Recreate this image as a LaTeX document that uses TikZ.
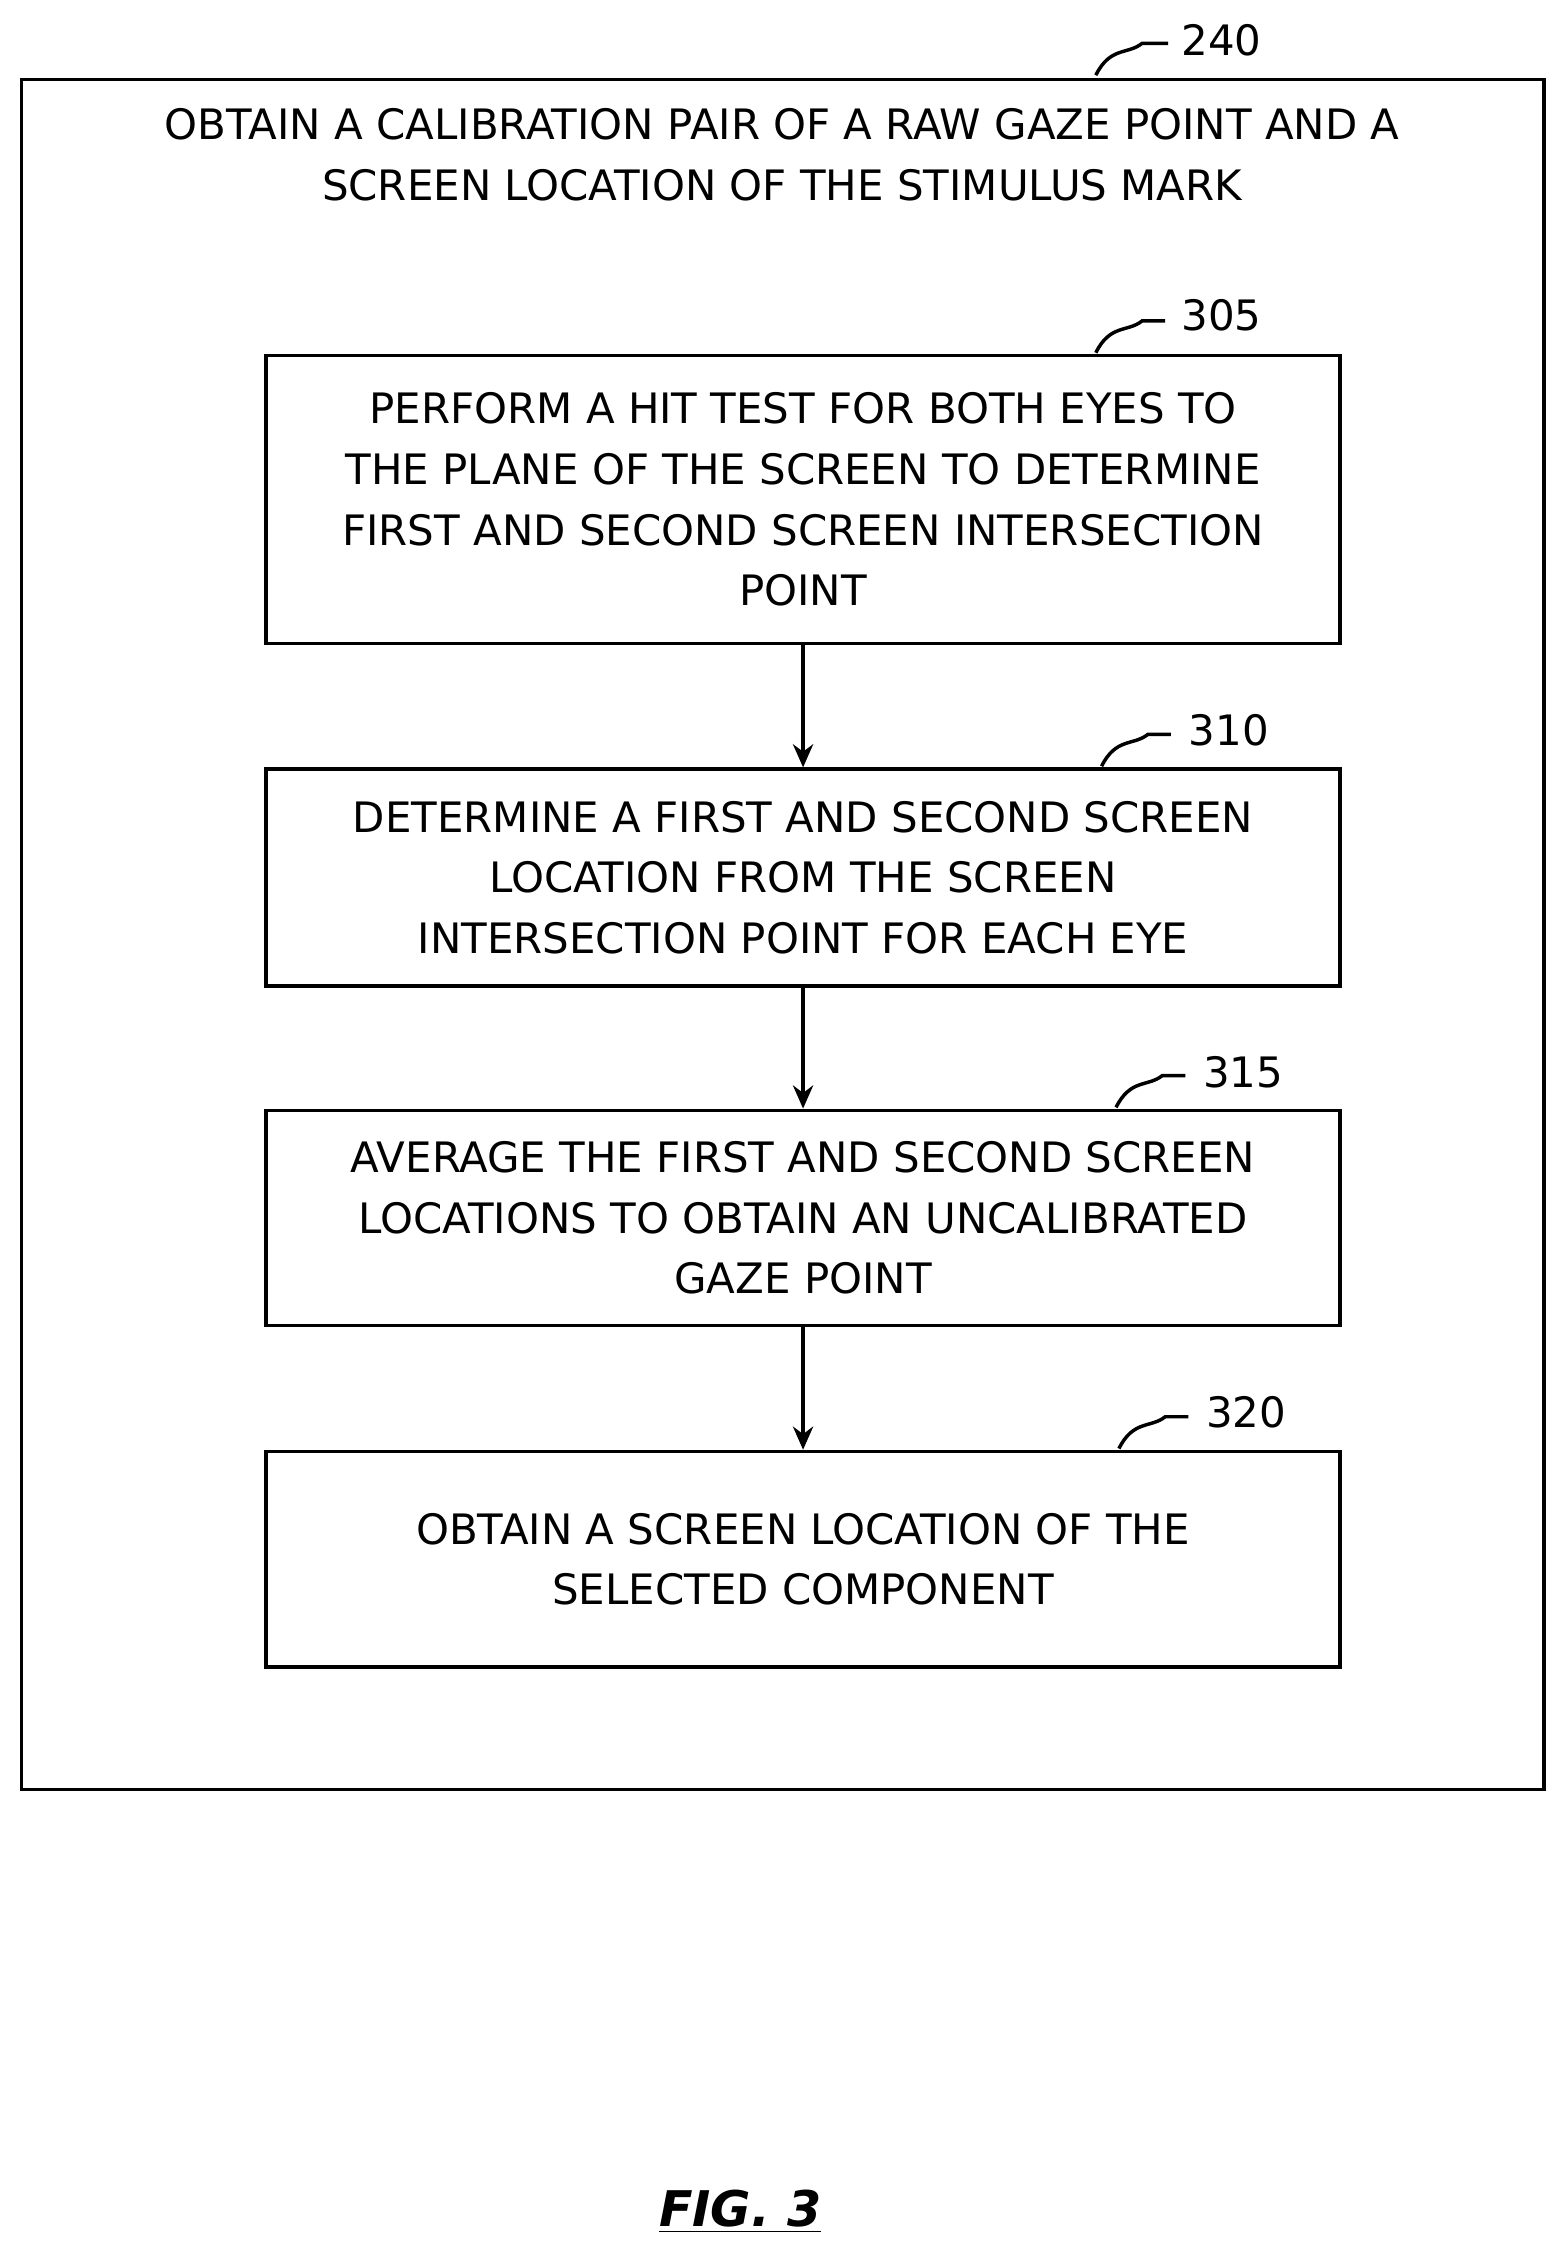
\documentclass[tikz,border=0pt]{standalone}
\usepackage{fontspec}
\usetikzlibrary{arrows.meta}
\setmainfont{DejaVu Sans}
\begin{document}
\begin{tikzpicture}[x=0.5pt,y=-0.5pt,
  bx/.style={draw,line width=1.2pt},
  txt/.style={align=center,font=\fontsize{14.5}{21}\selectfont},
  lab/.style={font=\fontsize{14.5}{17}\selectfont},
  ar/.style={draw,line width=1.2pt,-{Stealth[length=8pt,width=7pt]}},
  ld/.style={line width=1.2pt}]
\useasboundingbox (0,0) rectangle (1080,1564);
\draw[bx] (15,55) rectangle (1068,1238);
\node[txt] (t240) at (541,107) {OBTAIN A CALIBRATION PAIR OF A RAW GAZE POINT AND A\\SCREEN LOCATION OF THE STIMULUS MARK};
\node[lab] (l240) at (845,28) {240};
\draw[ld] (758,52) .. controls (768,32) and (780,38) .. (790,30) -- (808,30);

\node[bx,txt,minimum width=371.5pt,minimum height=99.5pt] (b305) at (555.5,345.5) {PERFORM A HIT TEST FOR BOTH EYES TO\\THE PLANE OF THE SCREEN TO DETERMINE\\FIRST AND SECOND SCREEN INTERSECTION\\POINT};
\node[lab] (l305) at (845,218) {305};
\draw[ld] (758,244) .. controls (768,224) and (780,230) .. (790,222) -- (806,222);

\node[bx,txt,minimum width=371.5pt,minimum height=75pt] (b310) at (555.5,607) {DETERMINE A FIRST AND SECOND SCREEN\\LOCATION FROM THE SCREEN\\INTERSECTION POINT FOR EACH EYE};
\node[lab] (l310) at (850,505) {310};
\draw[ld] (762,530) .. controls (772,510) and (784,516) .. (794,508) -- (810,508);

\node[bx,txt,minimum width=371.5pt,minimum height=74.5pt] (b315) at (555.5,842.5) {AVERAGE THE FIRST AND SECOND SCREEN\\LOCATIONS TO OBTAIN AN UNCALIBRATED\\GAZE POINT};
\node[lab] (l315) at (860,742) {315};
\draw[ld] (772,766) .. controls (782,746) and (794,752) .. (804,744) -- (820,744);

\node[bx,txt,minimum width=371.5pt,minimum height=74.5pt] (b320) at (555.5,1078.5) {OBTAIN A SCREEN LOCATION OF THE\\SELECTED COMPONENT};
\node[lab] (l320) at (862,977) {320};
\draw[ld] (774,1002) .. controls (784,982) and (796,988) .. (806,980) -- (822,980);

\draw[ar] (b305) -- (b310);
\draw[ar] (b310) -- (b315);
\draw[ar] (b315) -- (b320);

\node[font=\fontsize{17}{20}\selectfont\bfseries\itshape] (fig) at (512,1530) {\underline{FIG. 3}};
\end{tikzpicture}
\end{document}
